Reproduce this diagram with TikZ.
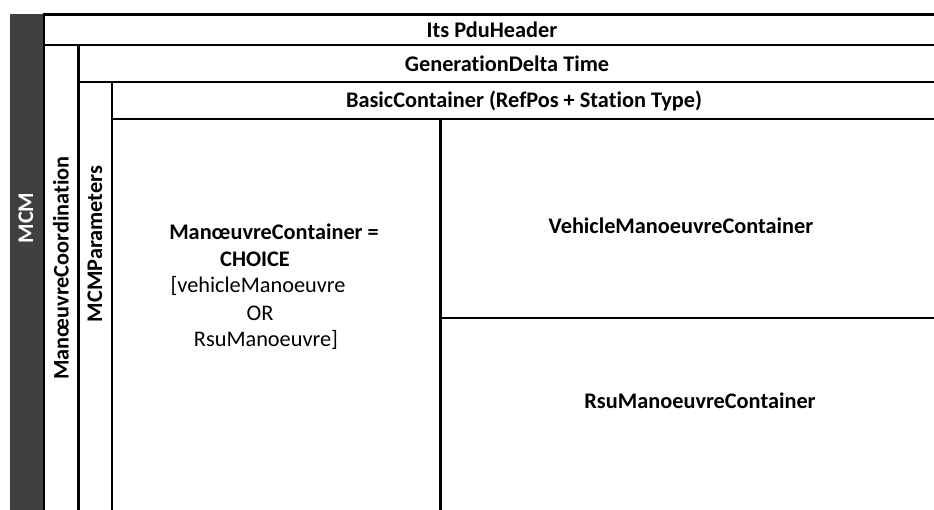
\documentclass[tikz,border=0pt]{standalone}
\usepackage{fontspec}
\setmainfont{Carlito}[Ligatures={NoCommon,NoContextual}]
\definecolor{barcol}{HTML}{404040}
\newcommand{\nolig}{\kern0pt }
\begin{document}
\begin{tikzpicture}[x=1pt,y=-1pt,
  rule/.style={line width=2.6pt, black},
  head/.style={font=\fontsize{22.3}{26}\selectfont\bfseries, inner sep=0pt},
  body/.style={font=\fontsize{22.3}{26}\selectfont, inner sep=0pt}]
\useasboundingbox (0,0) rectangle (934,510);
% dark side bar
\fill[barcol] (10,14) rectangle (44,510);
% nested frame rules
\draw[rule] (44,510) -- (44,14.5) -- (934,14.5);
\draw[rule] (44,45) -- (934,45);
\draw[rule] (78.5,510) -- (78.5,45);
\draw[rule] (78.5,82) -- (934,82);
\draw[rule] (112,510) -- (112,82);
\draw[rule] (112,119) -- (934,119);
\draw[rule] (440.5,510) -- (440.5,119);
\draw[rule] (440.5,318) -- (934,318);
% header rows
\node[head] (pdu) at (492,30) {Its PduHeader};
\node[head] (gen) at (507,63.5) {Generat\nolig ionDelta Time};
\node[head] (basic) at (524,100.5) {BasicContainer (RefPos + Stat\nolig ion Type)};
% vertical labels
\node[head, text=white, rotate=90] (mcm) at (26,218) {MCM};
\node[head, rotate=90] (coord) at (61,268) {ManœuvreCoordinat\nolig ion};
\node[head, rotate=90] (params) at (95,244) {MCMParameters};
% manoeuvre container choice
\node[head] (mc1) at (274,232) {ManœuvreContainer =};
\node[head] (mc2) at (255,259) {CHOICE};
\node[body] (mc3) at (258,286) {[vehicleManoeuvre};
\node[body] (mc4) at (260,313) {OR};
\node[body] (mc5) at (266,340) {RsuManoeuvre]};
% container cells
\node[head] (veh) at (681,226) {VehicleManoeuvreContainer};
\node[head] (rsu) at (700,401) {RsuManoeuvreContainer};
\end{tikzpicture}
\end{document}
